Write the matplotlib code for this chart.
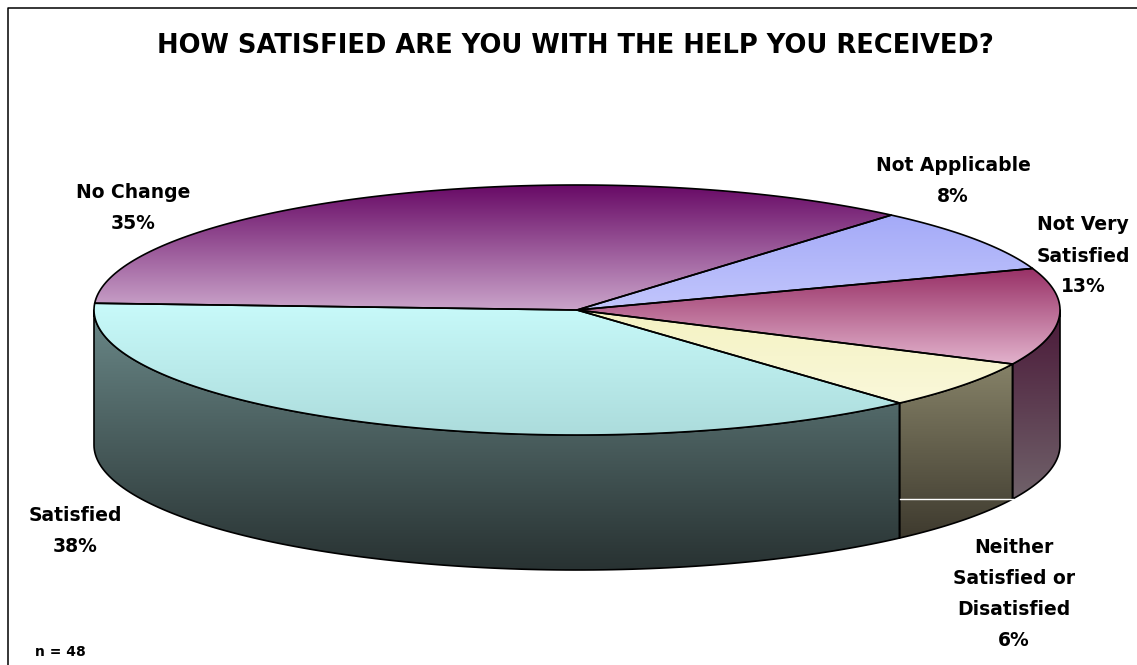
import numpy as np
import matplotlib
matplotlib.use('Agg')
import matplotlib.pyplot as plt
from matplotlib.patches import Polygon
from matplotlib.colors import LinearSegmentedColormap

# data (counts of respondents, n = 48), listed counter-clockwise from the left edge
categories = ['Satisfied', 'Neither\nSatisfied or\nDisatisfied', 'Not Very\nSatisfied',
              'Not Applicable', 'No Change']
counts = [18, 3, 6, 4, 17]
n_total = 48
title = 'HOW SATISFIED ARE YOU WITH THE HELP YOU RECEIVED?'

# styles: (top colour, bottom colour) of each gradient
top_colors = [('#c8fafa', '#acdcdc'), ('#f4f2c2', '#faf8da'), ('#983066', '#e2b2cc'),
              ('#a4aaf8', '#c2c6fc'), ('#680a66', '#caa4ca')]
side_colors = [('#6a8888', '#283232'), ('#868268', '#3e3a2e'), ('#4a1838', '#70626a'),
               None, None]
label_xy = [(75, 531), (1014, 594), (1083, 256), (953, 181), (133, 208)]

# pie geometry in pixels
cx, cy, rx, ry, depth = 577, 310, 483, 125, 135
start = 176.9

W, H = 1137, 665
fig = plt.figure(figsize=(W / 100, H / 100), dpi=100)
ax = fig.add_axes([0, 0, 1, 1])
ax.axis('off')


def arc(a, b, dy=0, num=120):
    t = np.radians(np.linspace(a, b, num))
    return np.column_stack([cx + rx * np.cos(t), cy - ry * np.sin(t) + dy])


def grad_fill(verts, c0, c1, z):
    poly = Polygon(verts, closed=True, facecolor='none', edgecolor='none')
    ax.add_patch(poly)
    cmap = LinearSegmentedColormap.from_list('g', [c0, c1])
    grad = np.linspace(0, 1, 256).reshape(-1, 1)
    x0, x1 = verts[:, 0].min(), verts[:, 0].max()
    y0, y1 = verts[:, 1].min(), verts[:, 1].max()
    im = ax.imshow(grad, cmap=cmap, extent=(x0, x1, y1, y0), aspect='auto',
                   interpolation='bilinear', zorder=z)
    im.set_clip_path(poly)
    ax.add_patch(Polygon(verts, closed=True, fill=False, edgecolor='black',
                         lw=1.2, zorder=z + 0.5, joinstyle='round'))


angles = np.cumsum([0] + [c / n_total * 360 for c in counts]) + start

# side walls (only the front half is visible)
for i, (a, b) in enumerate(zip(angles[:-1], angles[1:])):
    if side_colors[i] is None:
        continue
    lo, hi = max(a, 180), min(b, 360)
    if hi <= lo:
        continue
    verts = np.vstack([arc(lo, hi), arc(hi, lo, depth)])
    grad_fill(verts, side_colors[i][0], side_colors[i][1], 1)

# stray white edge inside the "Neither" wall
yb = cy - ry * np.sin(np.radians(angles[2])) + depth
ax.plot([cx + rx * np.cos(np.radians(angles[1])), cx + rx * np.cos(np.radians(angles[2]))],
        [yb, yb], color='white', lw=1.0, zorder=2)

# top faces
for i, (a, b) in enumerate(zip(angles[:-1], angles[1:])):
    verts = np.vstack([[cx, cy], arc(a, b)])
    grad_fill(verts, top_colors[i][0], top_colors[i][1], 3)

# labels
for cat, c, (x, y) in zip(categories, counts, label_xy):
    pct = int(100 * c / n_total + 0.5)
    ax.text(x, y, f'{cat}\n{pct}%', ha='center', va='center', fontsize=13.5,
            fontweight='bold', linespacing=1.8, zorder=5)

ax.text(575, 46, title, ha='center', va='center', fontsize=18.5, fontweight='bold')
ax.text(60, 652, f'n = {n_total}', ha='center', va='center', fontsize=10, fontweight='bold')

# chart frame
ax.plot([8, 8, W], [H, 8, 8], color='black', lw=1.1, zorder=6, clip_on=False)

ax.set_xlim(0, W)
ax.set_ylim(H, 0)
fig.savefig('out.png', dpi=100, facecolor='white')
